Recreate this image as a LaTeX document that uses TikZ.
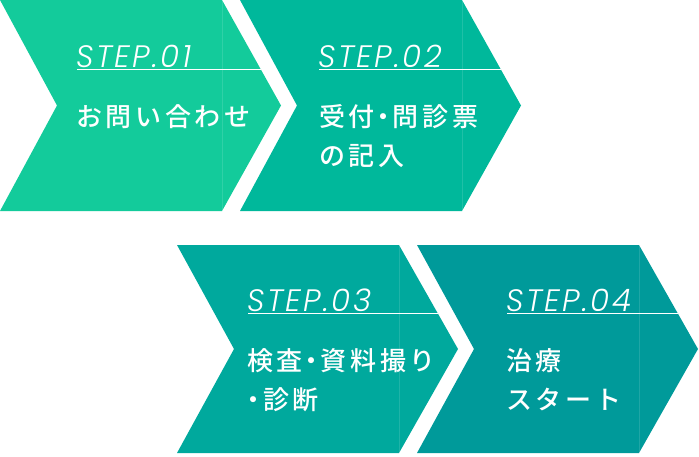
\documentclass[tikz,border=0pt]{standalone}
\usepackage{fontspec}
\newfontfamily\jpfont{Noto Sans CJK JP Medium}[LetterSpace=14]
\newfontfamily\stepfont{Poppins Light Italic}[LetterSpace=8]
\definecolor{cA}{HTML}{13CB9B}
\definecolor{cB}{HTML}{00B89B}
\definecolor{cC}{HTML}{00A99D}
\definecolor{cD}{HTML}{009A9A}
\newcommand\middot{\kern-4pt・\kern-4pt}
\newcommand\leaddot{\kern-7pt・\kern-3pt}
\begin{document}
\begin{tikzpicture}[x=1pt,y=-1pt,
  steptxt/.style={anchor=base west,inner sep=0pt,text=white,font=\stepfont\fontsize{31}{31}\selectfont},
  jptxt/.style={anchor=base west,inner sep=0pt,text=white,align=left,font=\jpfont\fontsize{26}{39}\selectfont},
  uline/.style={white,line width=1pt},
  seam/.style={white,opacity=0.12,line width=0.8pt}]
\useasboundingbox (0,0) rectangle (699,456);
% chevrons: x0, top, bottom, colour
\foreach \xo/\t/\b/\c in {0/0/211/cA,240/0/211/cB,177/245/453/cC,417/245/453/cD}{
  \pgfmathsetmacro\m{(\t+\b)/2}
  \fill[\c] (\xo,\t) -- ({\xo+222},\t) -- ({\xo+281},\m) -- ({\xo+222},\b) -- (\xo,\b) -- ({\xo+57},\m) -- cycle;
  \draw[seam] ({\xo+222},\t) -- ({\xo+222},\b);
}
% step 1
\node[steptxt] (s1) at (76,67) {STEP.01};
\node[jptxt] (j1) at (76,126) {お問い合わせ};
\coordinate (e1) at (261,69.5);
\draw[uline] (77,69.5) -- (e1);
% step 2
\node[steptxt] (s2) at (318,67) {STEP.02};
\node[jptxt] (j2) at (319,165) {受付\middot 問診票\\の記入};
\coordinate (e2) at (501,69.5);
\draw[uline] (319,69.5) -- (e2);
% step 3
\node[steptxt] (s3) at (247,311) {STEP.03};
\node[jptxt] (j3) at (247,409) {検査\middot 資料撮り\\\leaddot 診断};
\coordinate (e3) at (438,313.5);
\draw[uline] (248,313.5) -- (e3);
% step 4
\node[steptxt] (s4) at (506,311) {STEP.04};
\node[jptxt] (j4) at (506,409) {治療\\スタート};
\coordinate (e4) at (678,313.5);
\draw[uline] (507,313.5) -- (e4);
\end{tikzpicture}
\end{document}
